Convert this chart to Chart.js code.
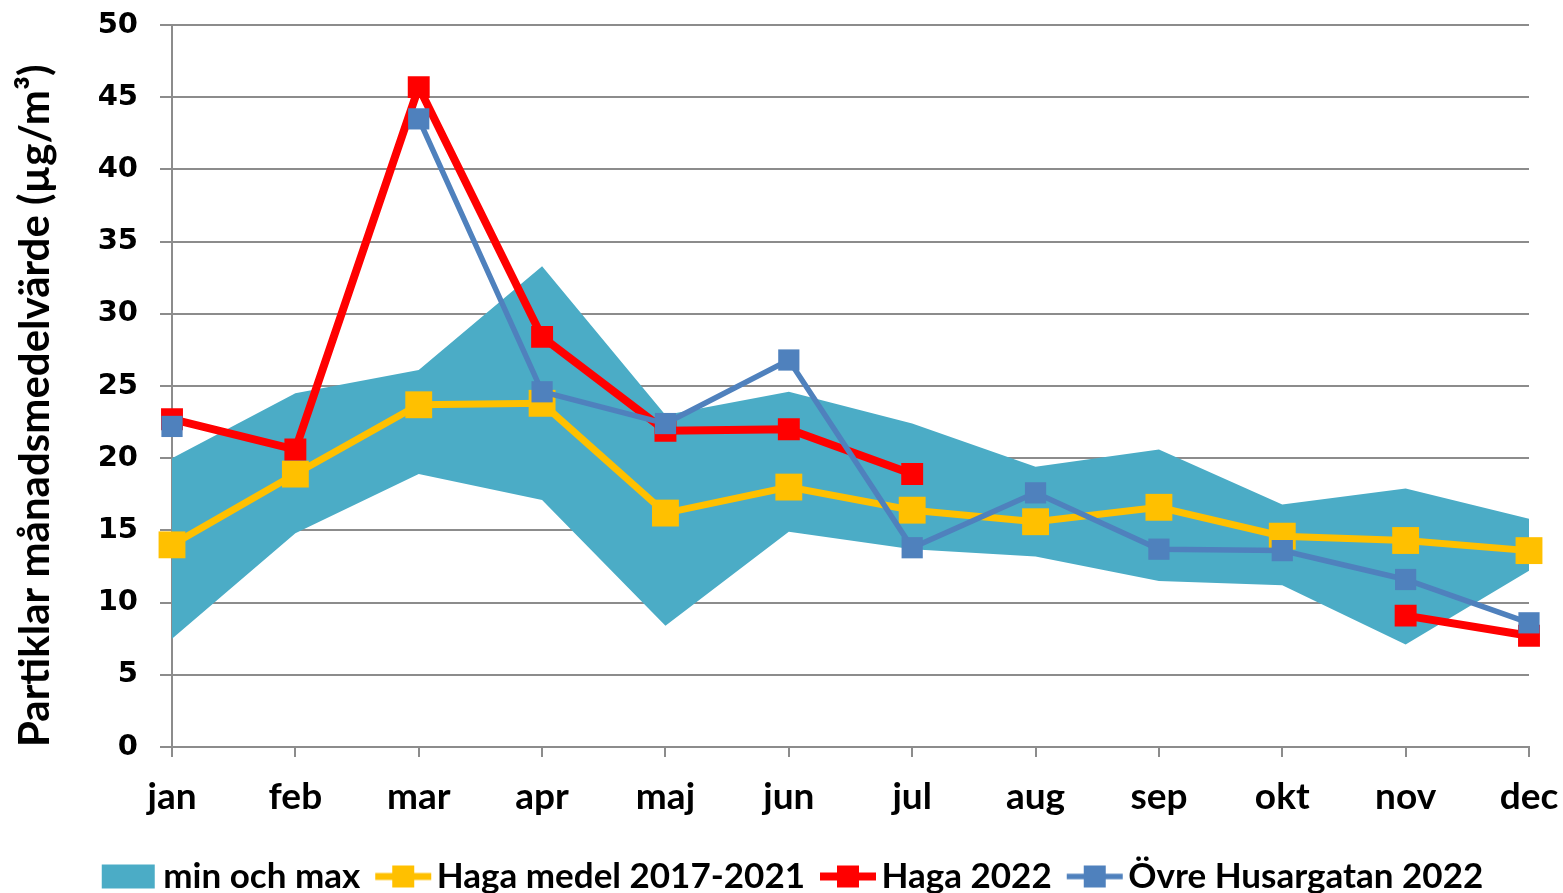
<!DOCTYPE html>
<html>
<head>
<meta charset="utf-8">
<script src="https://cdn.jsdelivr.net/npm/chart.js@4"></script>
<style>
  html, body { margin: 0; padding: 0; background: #fff; }
  #wrap { width: 1563px; height: 893px; }
</style>
</head>
<body>
<div id="wrap"><canvas id="chart" width="1563" height="893"></canvas></div>
<script>
// Månader
const months = ["jan", "feb", "mar", "apr", "maj", "jun", "jul", "aug", "sep", "okt", "nov", "dec"];

// Min och max (band)
const maxValues = [20.0, 24.5, 26.1, 33.3, 23.0, 24.6, 22.4, 19.4, 20.6, 16.8, 17.9, 15.8];
const minValues = [7.5, 14.8, 18.9, 17.1, 8.4, 14.9, 13.7, 13.2, 11.5, 11.2, 7.1, 12.2];

// Haga medel 2017-2021
const hagaMedel = [14.0, 18.9, 23.7, 23.8, 16.2, 18.0, 16.4, 15.6, 16.6, 14.6, 14.3, 13.6];

// Haga 2022
const haga2022 = [22.7, 20.6, 45.7, 28.4, 21.9, 22.0, 18.9, null, null, null, 9.1, 7.7];

// Övre Husargatan 2022
const husargatan2022 = [22.2, null, 43.5, 24.6, 22.4, 26.8, 13.8, 17.6, 13.7, 13.6, 11.6, 8.6];

const TEAL = "#4BACC6";
const YELLOW = "#FFC000";
const RED = "#FF0000";
const BLUE = "#4F81BD";

// legendsymboler ritade på små canvas (bredd 112, innehåll från x=40)
function bandIcon() {
    const c = document.createElement("canvas");
    c.width = 112; c.height = 28;
    const g = c.getContext("2d");
    g.fillStyle = TEAL;
    g.fillRect(40, 2, 53, 24);
    return c;
}
function lineIcon(color, lw) {
    const c = document.createElement("canvas");
    c.width = 112; c.height = 28;
    const g = c.getContext("2d");
    g.strokeStyle = color;
    g.lineWidth = lw;
    g.beginPath();
    g.moveTo(40, 14);
    g.lineTo(96, 14);
    g.stroke();
    g.fillStyle = color;
    g.fillRect(57, 3, 22, 22);
    return c;
}

// flytta legenden lite åt höger och nedåt
const legendShift = {
    id: "legendShift",
    afterLayout(ch) {
        const lg = ch.legend;
        lg.left += 22; lg.right += 22;
        lg.top += 11; lg.bottom += 11;
    },
};

const ctx = document.getElementById("chart").getContext("2d");
const chart = new Chart(ctx, {
    type: "line",
    plugins: [legendShift],
    data: {
        labels: months,
        datasets: [
            {
                label: "min och max",
                data: maxValues,
                borderWidth: 0,
                borderColor: TEAL,
                backgroundColor: TEAL,
                pointRadius: 0,
                fill: "+1",
                order: 10,
            },
            {
                label: "min",
                data: minValues,
                borderWidth: 0,
                borderColor: TEAL,
                backgroundColor: TEAL,
                pointRadius: 0,
                fill: false,
                order: 11,
            },
            {
                label: "Haga medel 2017-2021",
                data: hagaMedel,
                borderColor: YELLOW,
                backgroundColor: YELLOW,
                borderWidth: 7,
                pointStyle: "rect",
                pointRadius: 19,
                pointBorderWidth: 0,
                order: 3,
            },
            {
                label: "Haga 2022",
                data: haga2022,
                borderColor: RED,
                backgroundColor: RED,
                borderWidth: 8,
                pointStyle: "rect",
                pointRadius: 15.5,
                pointBorderWidth: 0,
                order: 2,
            },
            {
                label: "Övre Husargatan 2022",
                data: husargatan2022,
                borderColor: BLUE,
                backgroundColor: BLUE,
                borderWidth: 5.5,
                pointStyle: "rect",
                pointRadius: 15,
                pointBorderWidth: 0,
                order: 1,
            },
        ],
    },
    options: {
        responsive: false,
        animation: false,
        spanGaps: false,
        layout: { padding: { top: 25, right: 34, left: 0, bottom: 0 } },
        plugins: {
            tooltip: { enabled: false },
            legend: {
                position: "bottom",
                labels: {
                    usePointStyle: true,
                    pointStyleWidth: 56,
                    boxHeight: 24,
                    padding: 3,
                    color: "#000",
                    font: { family: "Lato", weight: "bold", size: 35 },
                    filter: (item) => item.text !== "min",
                    generateLabels: (ch) => {
                        const icons = [bandIcon(), null, lineIcon(YELLOW, 7), lineIcon(RED, 8), lineIcon(BLUE, 5.5)];
                        return ch.data.datasets.map((ds, i) => ({
                            text: ds.label,
                            datasetIndex: i,
                            pointStyle: icons[i],
                            fillStyle: ds.backgroundColor,
                            strokeStyle: ds.borderColor,
                            lineWidth: 0,
                            hidden: false,
                            fontColor: "#000",
                        }));
                    },
                },
            },
        },
        scales: {
            x: {
                offset: false,
                grid: {
                    drawOnChartArea: false,
                    drawTicks: true,
                    tickLength: 10,
                    color: "#8c8c8c",
                    lineWidth: 2,
                },
                border: { color: "#8c8c8c", width: 2 },
                ticks: {
                    color: "#000",
                    padding: 18,
                    maxRotation: 0,
                    autoSkip: false,
                    font: { family: "Lato", weight: "bold", size: 37 },
                },
                afterFit: (scale) => {
                    scale.height = 98;
                    scale.paddingLeft = 0;
                    scale.paddingRight = 0;
                },
            },
            y: {
                min: 0,
                max: 50,
                grid: {
                    color: "#8c8c8c",
                    lineWidth: 2,
                    tickLength: 12,
                },
                border: { color: "#8c8c8c", width: 2 },
                ticks: {
                    stepSize: 5,
                    color: "#000",
                    padding: 22,
                    font: { family: "DejaVu Sans", weight: "bold", size: 29 },
                },
                title: {
                    display: true,
                    text: "Partiklar månadsmedelvärde (µg/m³)",
                    color: "#000",
                    align: "start",
                    padding: { top: 10, bottom: 0 },
                    font: { family: "Lato", weight: "bold", size: 42 },
                },
                afterFit: (scale) => {
                    scale.width = 172;
                    scale.paddingTop = 0;
                    scale.paddingBottom = 0;
                },
            },
        },
    },
});
</script>
</body>
</html>
